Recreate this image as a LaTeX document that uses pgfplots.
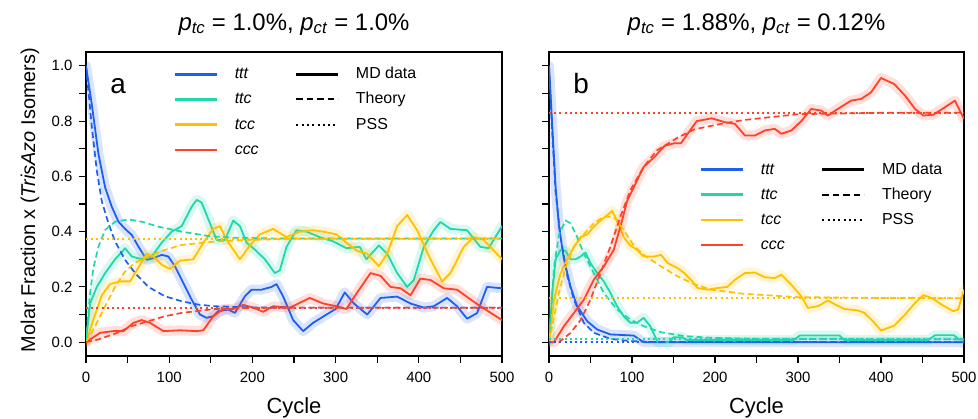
\documentclass[border=0pt]{standalone}
\usepackage{fontspec}
\setmainfont{Liberation Sans}
\usepackage{pgfplots}
\usepackage{pgfplotstable}
\pgfplotsset{compat=1.18}

\definecolor{cttt}{HTML}{1F5FF0}
\definecolor{cttc}{HTML}{1ED7AA}
\definecolor{ctcc}{HTML}{FFC000}
\definecolor{cccc}{HTML}{FF4128}

% ---------------- Panel a data ----------------
\pgfplotstableread{
x y
0 1.0
7 0.86
15 0.68
23 0.56
31 0.49
39 0.436
47 0.41
55 0.388
63 0.346
73 0.298
81 0.304
91 0.316
99 0.31
107 0.274
115 0.226
127 0.154
137 0.10
145 0.088
153 0.094
159 0.112
171 0.118
179 0.106
191 0.166
199 0.19
211 0.19
223 0.20
229 0.21
237 0.165
249 0.08
261 0.04
273 0.07
289 0.10
300 0.12
311 0.18
322 0.14
338 0.10
354 0.16
374 0.165
390 0.14
406 0.125
418 0.13
434 0.16
446 0.13
458 0.085
470 0.105
482 0.20
500 0.195
}\aTTT
\pgfplotstableread{
x y
0 0
5 0.14
13 0.20
23 0.25
35 0.30
47 0.34
55 0.31
67 0.30
79 0.31
91 0.36
103 0.40
115 0.42
127 0.49
133 0.515
139 0.505
149 0.43
157 0.37
167 0.37
177 0.44
185 0.42
193 0.36
203 0.335
215 0.30
227 0.25
233 0.26
241 0.345
253 0.405
265 0.40
281 0.38
297 0.365
313 0.34
329 0.345
337 0.30
352 0.35
362 0.32
374 0.25
386 0.20
394 0.225
406 0.345
418 0.405
426 0.435
438 0.41
458 0.405
474 0.345
484 0.34
500 0.42
}\aTTC
\pgfplotstableread{
x y
0 0
11 0.10
19 0.17
29 0.21
41 0.22
53 0.22
63 0.27
73 0.32
81 0.31
91 0.28
101 0.265
113 0.295
129 0.30
141 0.36
153 0.41
161 0.42
169 0.37
185 0.30
197 0.35
209 0.39
225 0.41
241 0.38
257 0.40
273 0.405
285 0.40
301 0.39
313 0.36
326 0.33
338 0.32
352 0.275
362 0.32
374 0.42
386 0.46
398 0.405
414 0.30
428 0.22
438 0.25
454 0.345
466 0.38
478 0.37
500 0.30
}\aTCC
\pgfplotstableread{
x y
0 0
10 0.02
17 0.034
33 0.04
45 0.04
57 0.07
67 0.08
77 0.07
93 0.04
113 0.043
133 0.04
141 0.043
153 0.094
165 0.12
177 0.12
189 0.135
201 0.125
213 0.11
225 0.13
245 0.125
269 0.16
285 0.14
301 0.13
313 0.12
326 0.18
342 0.25
354 0.24
366 0.20
378 0.195
390 0.17
402 0.23
414 0.225
430 0.195
446 0.19
462 0.155
474 0.13
500 0.08
}\aCCC
\pgfplotstableread{
x y
0 1.0
7 0.78
13 0.62
19 0.51
27 0.43
35 0.364
47 0.298
59 0.25
75 0.20
95 0.166
115 0.148
135 0.136
155 0.13
195 0.126
250 0.125
500 0.125
}\aTTTth
\pgfplotstableread{
x y
0 0
5 0.18
9 0.27
15 0.346
23 0.406
35 0.436
51 0.444
67 0.436
87 0.418
115 0.40
147 0.384
175 0.378
235 0.375
500 0.375
}\aTTCth
\pgfplotstableread{
x y
0 0
11 0.058
23 0.13
35 0.20
47 0.256
59 0.288
75 0.31
95 0.334
115 0.352
155 0.364
195 0.37
250 0.374
500 0.375
}\aTCCth
\pgfplotstableread{
x y
0 0
15 0.01
35 0.031
55 0.058
75 0.076
95 0.094
115 0.106
155 0.12
195 0.124
250 0.125
500 0.125
}\aCCCth

% ---------------- Panel b data ----------------
\pgfplotstableread{
x y
0 1.0
4 0.78
8 0.56
12 0.42
18 0.30
26 0.20
34 0.13
46 0.076
58 0.046
74 0.028
102 0.024
114 0.0
500 0.0
}\bTTT
\pgfplotstableread{
x y
0 0
4 0.18
8 0.30
14 0.334
20 0.33
26 0.30
32 0.30
38 0.31
44 0.324
50 0.286
58 0.25
66 0.22
74 0.178
82 0.13
90 0.094
98 0.07
106 0.07
114 0.088
122 0.058
131 0.0
145 0.0
150 0.018
160 0.018
166 0.008
295 0.008
302 0.024
350 0.024
356 0.008
457 0.008
465 0.025
488 0.025
494 0.01
500 0.01
}\bTTC
\pgfplotstableread{
x y
0 0
6 0.154
14 0.25
22 0.30
30 0.345
38 0.38
46 0.39
54 0.418
62 0.44
68 0.454
76 0.475
82 0.44
90 0.38
98 0.35
106 0.334
114 0.31
127 0.31
135 0.316
143 0.286
155 0.268
163 0.25
171 0.226
179 0.196
191 0.19
203 0.196
215 0.2
224 0.226
236 0.25
248 0.252
260 0.235
272 0.232
280 0.244
292 0.208
304 0.166
312 0.124
324 0.13
336 0.151
345 0.136
356 0.12
372 0.115
380 0.106
392 0.07
400 0.042
416 0.06
429 0.10
441 0.142
451 0.17
461 0.16
473 0.136
487 0.112
493 0.118
500 0.19
}\bTCC
\pgfplotstableread{
x y
0 0
6 0
18 0.058
30 0.106
42 0.154
54 0.226
66 0.274
78 0.334
88 0.44
94 0.51
102 0.56
114 0.634
127 0.67
139 0.71
151 0.72
159 0.72
167 0.754
178 0.80
196 0.81
212 0.796
224 0.79
236 0.748
248 0.748
260 0.766
272 0.772
280 0.754
292 0.766
304 0.80
316 0.844
328 0.838
336 0.82
348 0.844
364 0.874
376 0.88
388 0.904
400 0.956
416 0.934
429 0.892
441 0.844
451 0.82
463 0.823
477 0.85
489 0.874
500 0.808
}\bCCC
\pgfplotstableread{
x y
0 1.0
4 0.75
8 0.54
14 0.38
22 0.24
30 0.154
42 0.07
54 0.034
74 0.012
98 0.004
130 0.0005
500 0.0002
}\bTTTth
\pgfplotstableread{
x y
0 0
6 0.27
12 0.39
20 0.44
26 0.43
34 0.38
42 0.32
54 0.25
66 0.178
82 0.118
98 0.082
114 0.058
135 0.036
163 0.022
195 0.016
250 0.012
500 0.0102
}\bTTCth
\pgfplotstableread{
x y
0 0
12 0.18
20 0.27
30 0.345
42 0.39
54 0.43
66 0.454
78 0.454
90 0.405
102 0.35
114 0.316
135 0.274
155 0.238
175 0.21
195 0.19
235 0.175
300 0.163
400 0.16
500 0.159
}\bTCCth
\pgfplotstableread{
x y
0 0
12 0
26 0.034
38 0.08
50 0.154
62 0.25
74 0.346
86 0.454
98 0.55
114 0.634
130 0.694
155 0.74
175 0.77
207 0.79
235 0.804
300 0.825
400 0.83
500 0.8306
}\bCCCth

\pgfplotsset{
  myaxis/.style={
    scale only axis, width=416bp, height=304bp,
    xmin=0, xmax=500, ymin=-0.05, ymax=1.05,
    xtick={0,100,200,300,400,500},
    minor xtick={50,150,250,350,450},
    ytick={0,0.2,0.4,0.6,0.8,1.0},
    minor ytick={0.1,0.3,0.5,0.7,0.9},
    tick align=outside, xtick pos=bottom, ytick pos=left,
    major tick length=7bp, minor tick length=7bp,
    every tick/.style={black, line width=1.1bp},
    axis line style={black, line width=1.2bp},
    /pgf/number format/assume math mode=true,
    ticklabel style={font=\fontsize{15}{18}\selectfont},
    xticklabel style={yshift=-6bp},
    yticklabel style={xshift=-3bp, /pgf/number format/.cd, fixed, fixed zerofill, precision=1},
    title style={font=\fontsize{24}{28}\selectfont, at={(0.5,1)}, anchor=base, yshift=16bp, inner sep=0pt},
    xlabel={Cycle},
    xlabel style={font=\fontsize{22}{26}\selectfont, at={(axis description cs:0.5,0)}, anchor=base, yshift=-57bp, inner sep=0pt},
    legend style={draw=none, fill=none, inner sep=0pt, outer sep=0pt,
      anchor=north west, legend columns=2,
      font=\fontsize{16}{19}\selectfont, row sep=7.1bp,
      nodes={inner sep=1.5bp, text height=12bp, text depth=3bp},
      /tikz/every even column/.append style={column sep=35bp},
      /tikz/every odd column/.append style={column sep=15bp}},
    legend cell align=left,
    legend image code/.code={\draw[##1] (0bp,0bp) -- (42bp,0bp);},
  },
  band/.style={line width=10bp, opacity=0.17, line join=round, line cap=round, forget plot},
  md/.style={line width=1.8bp, line join=round, forget plot},
  th/.style={line width=1.7bp, dash pattern=on 6bp off 3.5bp, forget plot},
  pss/.style={line width=2bp, dash pattern=on 2bp off 3.2bp, forget plot},
}

\newcommand{\mylegend}{%
  \addlegendimage{cttt, line width=2.3bp}\addlegendentry{\textit{ttt}}
  \addlegendimage{black, line width=2.3bp}\addlegendentry{MD data}
  \addlegendimage{cttc, line width=2.3bp}\addlegendentry{\textit{ttc}}
  \addlegendimage{black, line width=2bp, dash pattern=on 6.5bp off 4bp}\addlegendentry{Theory}
  \addlegendimage{ctcc, line width=2.3bp}\addlegendentry{\textit{tcc}}
  \addlegendimage{black, line width=2bp, dash pattern=on 2bp off 3.3bp}\addlegendentry{PSS}
  \addlegendimage{cccc, line width=2.3bp}\addlegendentry{\textit{ccc}}
  \addlegendimage{empty legend}\addlegendentry{}
}

\begin{document}
\begin{tikzpicture}
\begin{axis}[myaxis, at={(86bp,63bp)}, anchor=south west,
  title={\textit{p}\textsubscript{\textit{tc}} = 1.0\%, \textit{p}\textsubscript{\textit{ct}} = 1.0\%},
  ylabel={Molar Fraction x (\textit{TrisAzo} Isomers)},
  ylabel style={font=\fontsize{20}{24}\selectfont, at={(axis description cs:-0.112,0.513)}, anchor=south, inner sep=0pt},
  legend style={at={(rel axis cs:0.2115,0.956)}},
]
\mylegend
\addplot[band, cttt] table {\aTTT};
\addplot[md, cttt] table {\aTTT};
\addplot[band, cttc] table {\aTTC};
\addplot[md, cttc] table {\aTTC};
\addplot[band, ctcc] table {\aTCC};
\addplot[md, ctcc] table {\aTCC};
\addplot[band, cccc] table {\aCCC};
\addplot[md, cccc] table {\aCCC};
\addplot[th, cttt] table {\aTTTth};
\addplot[th, cttc] table {\aTTCth};
\addplot[th, ctcc] table {\aTCCth};
\addplot[th, cccc] table {\aCCCth};
\addplot[pss, cttt] coordinates {(0,0.125) (500,0.125)};
\addplot[pss, cttc] coordinates {(0,0.375) (500,0.375)};
\addplot[pss, ctcc] coordinates {(0,0.375) (500,0.375)};
\addplot[pss, cccc] coordinates {(0,0.125) (500,0.125)};
\node[anchor=base west, inner sep=0pt, font=\fontsize{28}{32}\selectfont] at (rel axis cs:0.058,0.865) {a};
\end{axis}

\begin{axis}[myaxis, at={(549bp,63bp)}, anchor=south west, width=415bp,
  title={\textit{p}\textsubscript{\textit{tc}} = 1.88\%, \textit{p}\textsubscript{\textit{ct}} = 0.12\%},
  yticklabels={},
  legend style={at={(rel axis cs:0.364,0.643)}},
]
\mylegend
\addplot[band, cttt] table {\bTTT};
\addplot[md, cttt] table {\bTTT};
\addplot[band, cttc] table {\bTTC};
\addplot[md, cttc] table {\bTTC};
\addplot[band, ctcc] table {\bTCC};
\addplot[md, ctcc] table {\bTCC};
\addplot[band, cccc] table {\bCCC};
\addplot[md, cccc] table {\bCCC};
\addplot[th, cttt] table {\bTTTth};
\addplot[th, cttc] table {\bTTCth};
\addplot[th, ctcc] table {\bTCCth};
\addplot[th, cccc] table {\bCCCth};
\addplot[pss, cttt] coordinates {(0,0.0002) (500,0.0002)};
\addplot[pss, cttc] coordinates {(0,0.0102) (500,0.0102)};
\addplot[pss, ctcc] coordinates {(0,0.159) (500,0.159)};
\addplot[pss, cccc] coordinates {(0,0.8306) (500,0.8306)};
\node[anchor=base west, inner sep=0pt, font=\fontsize{28}{32}\selectfont] at (rel axis cs:0.058,0.865) {b};
\end{axis}
\pgfresetboundingbox
\useasboundingbox (0,0) rectangle (978bp,419bp);
\end{tikzpicture}
\end{document}
